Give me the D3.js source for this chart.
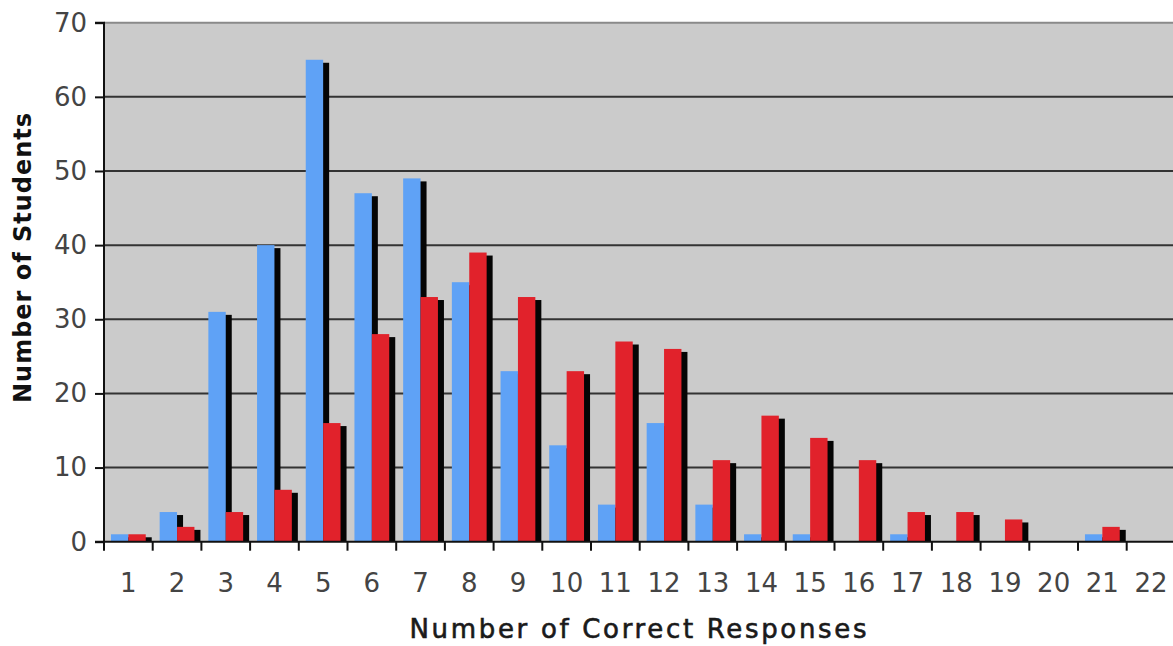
<!DOCTYPE html>
<html><head><meta charset="utf-8">
<script src="https://cdn.jsdelivr.net/npm/d3@7"></script>
<style>body{margin:0;background:#fff}svg{display:block}</style>
</head><body>
<svg id="c" width="1173" height="646"></svg>
<script>
const categories = ["1","2","3","4","5","6","7","8","9","10","11","12","13","14","15","16","17","18","19","20","21","22"];
const seriesBlue = [1,4,31,40,65,47,49,35,23,13,5,16,5,1,1,0,1,0,0,0,1,0];
const seriesRed  = [1,2,4,7,16,28,33,39,33,23,27,26,11,17,14,11,4,4,3,0,2,0];
const yTicks = [0,10,20,30,40,50,60,70];
const xTitle = "Number of Correct Responses";
const yTitle = "Number of Students";

const svg = d3.select("#c");
const L = 104, R = 1175.4, T = 22.7, B = 541.7;
const x = d3.scaleBand().domain(categories).range([L, R]).paddingInner(0).paddingOuter(0);
const sub = d3.scaleBand().domain(["blue","red"]).range([0, x.bandwidth()]).paddingInner(0).paddingOuter(0.4);
const y = d3.scaleLinear().domain([0,70]).range([B, T]);

// plot background
svg.append("rect").attr("x", L).attr("y", T).attr("width", 1173 - L).attr("height", B - T).attr("fill", "#cbcbcb");
svg.append("line").attr("x1", L).attr("x2", 1173).attr("y1", y(70)).attr("y2", y(70)).attr("stroke", "#8a8a8a").attr("stroke-width", 2);

// gridlines
svg.append("g").selectAll("line").data(yTicks.filter(d => d > 0 && d < 70)).join("line")
  .attr("x1", L).attr("x2", 1173).attr("y1", d => y(d)).attr("y2", d => y(d))
  .attr("stroke", "#333").attr("stroke-width", 2);

const series = [{key:"blue", vals: seriesBlue, color:"#5fa2f6"}, {key:"red", vals: seriesRed, color:"#e1222b"}];
const dx = 6, dy = 3;
const data = [];
series.forEach(s => s.vals.forEach((v,i) => data.push({cat: categories[i], v, s})));
const bw = sub.bandwidth();
// shadows
svg.append("g").selectAll("rect").data(data.filter(d => d.v > 0)).join("rect")
  .attr("x", d => x(d.cat) + sub(d.s.key) + dx)
  .attr("y", d => Math.min(y(d.v) + dy, y(0)))
  .attr("width", bw)
  .attr("height", d => Math.max(0, y(0) - Math.min(y(d.v) + dy, y(0))))
  .attr("fill", "#050505");
// bars
svg.append("g").selectAll("rect").data(data.filter(d => d.v > 0)).join("rect")
  .attr("x", d => x(d.cat) + sub(d.s.key))
  .attr("y", d => y(d.v))
  .attr("width", bw)
  .attr("height", d => y(0) - y(d.v))
  .attr("fill", d => d.s.color);

// y axis
const yAxis = d3.axisLeft(y).tickValues(yTicks).tickSize(9).tickPadding(8);
const gy = svg.append("g").attr("transform", `translate(${L},0)`).call(yAxis);
gy.select(".domain").attr("stroke", "#111").attr("stroke-width", 2).attr("d", `M-9,${T}H0V${B}`);
gy.selectAll(".tick line").attr("stroke", "#111").attr("stroke-width", 2);
gy.selectAll(".tick text").attr("font-family", "DejaVu Sans").attr("font-size", 26).attr("fill", "#444");

// x axis
const gx = svg.append("g").attr("transform", `translate(0,${B})`);
gx.append("line").attr("x1", L - 9).attr("x2", 1173).attr("y1", 0).attr("y2", 0).attr("stroke", "#111").attr("stroke-width", 2);
gx.selectAll("line.tk").data(categories).join("line").attr("class","tk")
  .attr("x1", d => x(d) + x.bandwidth()).attr("x2", d => x(d) + x.bandwidth())
  .attr("y1", 0).attr("y2", 9).attr("stroke", "#111").attr("stroke-width", 2);
gx.append("line").attr("x1", L).attr("x2", L).attr("y1", 0).attr("y2", 9).attr("stroke", "#111").attr("stroke-width", 2);
gx.selectAll("text").data(categories).join("text")
  .attr("x", d => x(d) + x.bandwidth()/2).attr("y", 50)
  .attr("text-anchor", "middle")
  .attr("font-family", "DejaVu Sans").attr("font-size", 26).attr("fill", "#444")
  .text(d => d);

// titles
svg.append("text").attr("x", 638).attr("y", 638).attr("text-anchor", "middle")
  .attr("font-family", "DejaVu Sans").attr("font-size", 26).attr("fill", "#1a1a1a")
  .attr("stroke", "#1a1a1a").attr("stroke-width", 0.6)
  .attr("textLength", 457).attr("lengthAdjust", "spacing")
  .text(xTitle);
svg.append("text").attr("transform", `translate(31,258) rotate(-90)`).attr("text-anchor", "middle")
  .attr("font-family", "DejaVu Sans").attr("font-size", 24).attr("font-weight", "bold").attr("fill", "#111")
  .attr("textLength", 290).attr("lengthAdjust", "spacing")
  .text(yTitle);
</script>
</body></html>
